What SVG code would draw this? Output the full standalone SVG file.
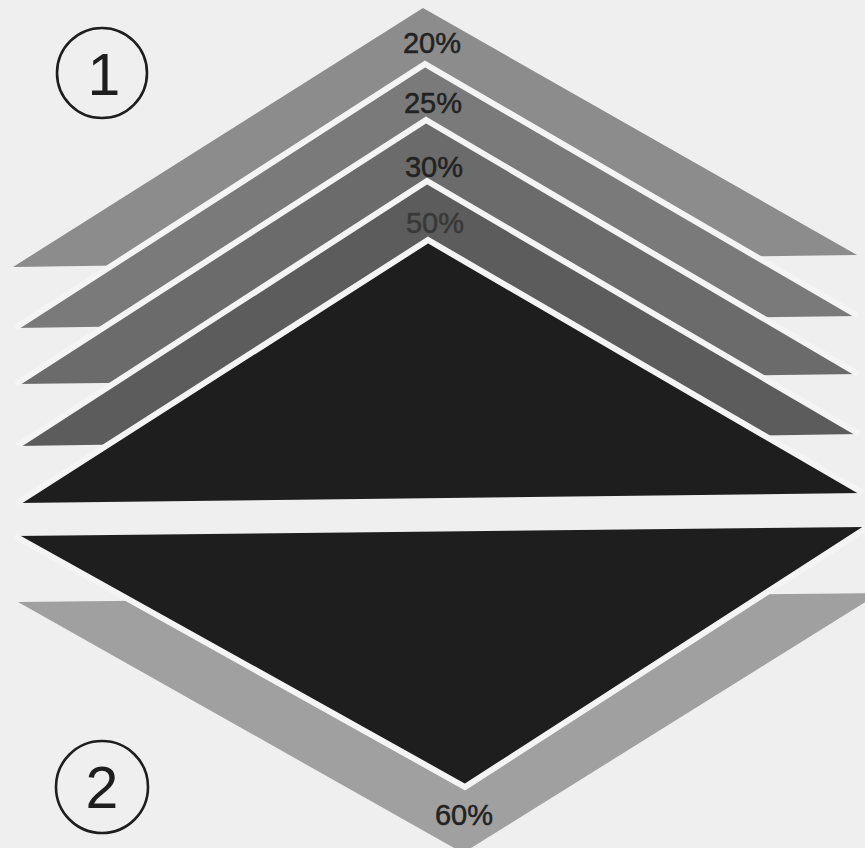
<svg xmlns="http://www.w3.org/2000/svg" width="865" height="848" viewBox="0 0 865 848">
<style>
.gap{fill:none;stroke:#f4f4f4;stroke-width:6;stroke-linejoin:miter;stroke-miterlimit:10}
.lbl{font-family:"Liberation Sans",Arial,sans-serif;font-size:29px;fill:#222;stroke:#222;stroke-width:0.5;text-anchor:middle}
.faint{fill:#2c2c2c;stroke:#2c2c2c;opacity:0.75}
.num{font-family:"Liberation Sans",Arial,sans-serif;font-size:59px;fill:#1e1e1e;text-anchor:middle}
.ring{fill:none;stroke:#1e1e1e;stroke-width:2.6}
</style>
<rect width="865" height="848" fill="#efefef"/>
<g id="band-60">
<polygon points="18,602 463,853 880,593" fill="#a0a0a0"/>
</g>
<g id="band-20">
<polygon points="13,267 423,8 857,255" fill="#8c8c8c"/>
</g>
<g id="band-25">
<polygon points="15,328 425,64 858,316" fill="#7a7a7a"/>
<polyline class="gap" points="15,328 425,64 858,316"/>
</g>
<g id="band-30">
<polygon points="16,384 426,120 858,374" fill="#6b6b6b"/>
<polyline class="gap" points="16,384 426,120 858,374"/>
</g>
<g id="band-50">
<polygon points="17,446 427,181 859,434" fill="#5c5c5c"/>
<polyline class="gap" points="17,446 427,181 859,434"/>
</g>
<g id="black-top">
<polygon points="17,503 428,240 863,493" fill="#1e1e1e"/>
<polyline class="gap" points="17,503 428,240 863,493"/>
</g>
<g id="black-bottom">
<polygon points="15,536 868,527 465,787" fill="#1e1e1e"/>
<polyline class="gap" points="15,536 465,787 868,527"/>
</g>
<g id="labels">
<text class="lbl" x="432" y="53">20%</text>
<text class="lbl" x="433" y="113">25%</text>
<text class="lbl" x="434" y="177">30%</text>
<text class="lbl faint" x="435" y="233">50%</text>
<text class="lbl" x="464" y="825">60%</text>
</g>
<g id="marker-1">
<circle class="ring" cx="102" cy="73" r="45"/>
<text class="num" x="104" y="95">1</text>
</g>
<g id="marker-2">
<circle class="ring" cx="102" cy="787" r="46"/>
<text class="num" x="102" y="808">2</text>
</g>
</svg>
